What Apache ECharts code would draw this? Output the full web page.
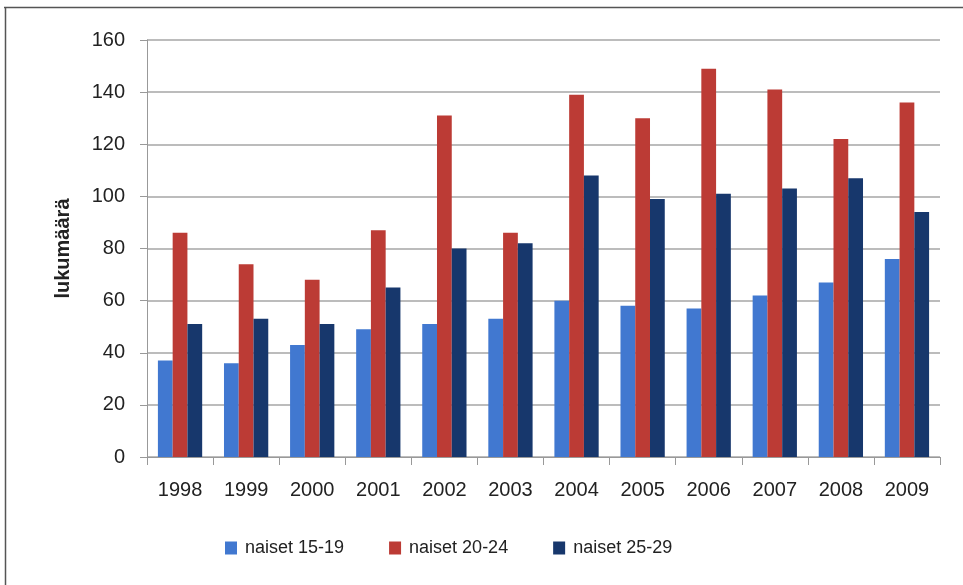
<!DOCTYPE html>
<html>
<head>
<meta charset="utf-8">
<script src="https://cdn.jsdelivr.net/npm/echarts@6/dist/echarts.min.js"></script>
<style>
  html, body { margin: 0; padding: 0; background: #fff; }
  #chart { width: 963px; height: 585px; }
</style>
</head>
<body>
<div id="chart"></div>
<script>
// Years on the category axis
const years = ['1998', '1999', '2000', '2001', '2002', '2003', '2004', '2005', '2006', '2007', '2008', '2009'];

// Counts per age group
const naiset1519 = [37, 36, 43, 49, 51, 53, 60, 58, 57, 62, 67, 76];
const naiset2024 = [86, 74, 68, 87, 131, 86, 139, 130, 149, 141, 122, 136];
const naiset2529 = [51, 53, 51, 65, 80, 82, 108, 99, 101, 103, 107, 94];

const seriesNames = ['naiset 15-19', 'naiset 20-24', 'naiset 25-29'];
const seriesColors = ['#4178d0', '#bc3b35', '#17376c'];

const chart = echarts.init(document.getElementById('chart'));

const textFont = 'Liberation Sans, Arial, sans-serif';

chart.setOption({
  animation: false,
  backgroundColor: '#fff',
  // Frame along the top and left edges
  graphic: [
    {
      type: 'line',
      shape: { x1: 4, y1: 7.5, x2: 963, y2: 7.5 },
      style: { stroke: '#555', lineWidth: 1.5 },
      silent: true
    },
    {
      type: 'line',
      shape: { x1: 5.5, y1: 7, x2: 5.5, y2: 585 },
      style: { stroke: '#555', lineWidth: 1.5 },
      silent: true
    }
  ],
  grid: { left: 147, right: 23, top: 40, bottom: 128 },
  legend: {
    data: seriesNames,
    top: 534,
    left: 220,
    itemWidth: 12,
    itemHeight: 13,
    itemGap: 45,
    icon: 'rect',
    textStyle: { fontFamily: textFont, fontSize: 18, color: '#222', padding: [0, 0, 0, 3] }
  },
  xAxis: {
    type: 'category',
    data: years,
    axisLine: { lineStyle: { color: '#999', width: 1 } },
    axisTick: { show: true, alignWithLabel: false, length: 8, lineStyle: { color: '#999' } },
    axisLabel: { fontFamily: textFont, fontSize: 20, color: '#222', margin: 23 }
  },
  yAxis: {
    type: 'value',
    min: 0,
    max: 160,
    interval: 20,
    name: 'lukumäärä',
    nameLocation: 'middle',
    nameGap: 74,
    nameTextStyle: { fontFamily: textFont, fontSize: 20, fontWeight: 'bold', color: '#222' },
    axisLine: { show: true, lineStyle: { color: '#999', width: 1 } },
    axisTick: { show: true, length: 7, lineStyle: { color: '#999' } },
    axisLabel: { fontFamily: textFont, fontSize: 20, color: '#222', margin: 22 },
    splitLine: { lineStyle: { color: '#a6a6a6', width: 1.5 } }
  },
  series: [
    { name: seriesNames[0], type: 'bar', data: naiset1519, itemStyle: { color: seriesColors[0] }, barGap: '0%', barCategoryGap: '33%' },
    { name: seriesNames[1], type: 'bar', data: naiset2024, itemStyle: { color: seriesColors[1] }, barGap: '0%', barCategoryGap: '33%' },
    { name: seriesNames[2], type: 'bar', data: naiset2529, itemStyle: { color: seriesColors[2] }, barGap: '0%', barCategoryGap: '33%' }
  ]
});
</script>
</body>
</html>
